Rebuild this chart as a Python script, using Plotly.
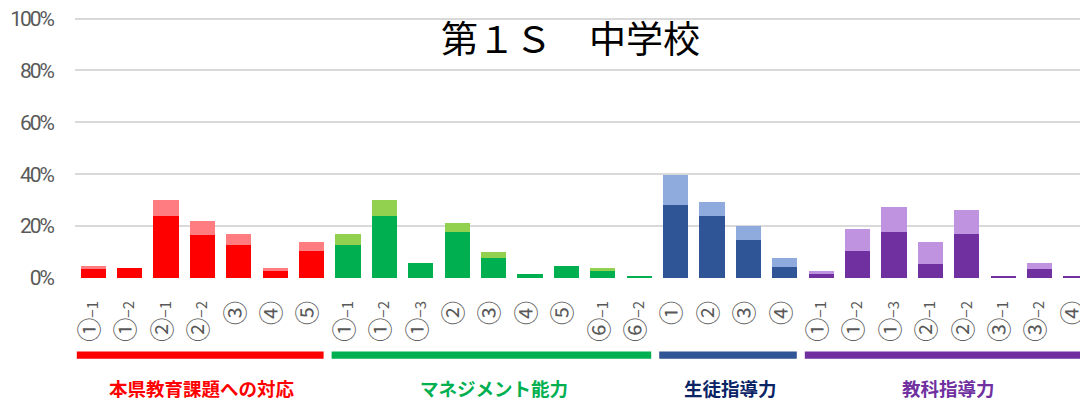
import plotly.graph_objects as go

# ---- data ----
categories = [
    "①−1", "①−2", "②−1", "②−2", "③", "④", "⑤",
    "①−1", "①−2", "①−3", "②", "③", "④", "⑤", "⑥−1", "⑥−2",
    "①", "②", "③", "④",
    "①−1", "①−2", "①−3", "②−1", "②−2", "③−1", "③−2", "④",
]
dark_values = [
    3.6, 4.0, 24.0, 16.7, 12.8, 2.8, 10.6,
    12.8, 24.0, 5.9, 17.9, 7.8, 1.7, 4.7, 2.8, 0.9,
    28.3, 24.0, 14.8, 4.4,
    1.7, 10.5, 17.9, 5.5, 17.1, 0.9, 3.6, 0.9,
]
total_values = [
    4.8, 4.0, 30.2, 22.1, 17.1, 4.0, 14.0,
    17.1, 30.2, 5.9, 21.3, 10.2, 1.7, 4.7, 4.0, 0.9,
    39.8, 29.4, 20.2, 7.8,
    2.8, 19.0, 27.5, 14.0, 26.3, 0.9, 5.9, 0.9,
]
group_names = ["本県教育課題への対応", "マネジメント能力", "生徒指導力", "教科指導力"]
group_sizes = [7, 9, 4, 8]
group_dark_colors = ["#FF0000", "#00B050", "#2F5597", "#7030A0"]
group_light_colors = ["#FF7C80", "#92D050", "#8FAADC", "#BF93E0"]
group_text_colors = ["#FF0000", "#00B050", "#0B2466", "#7030A0"]
y_ticks = [0, 20, 40, 60, 80, 100]
title_text = "第１Ｓ　中学校"

# ---- derived ----
x_idx = list(range(len(categories)))
light_values = [t - d for t, d in zip(total_values, dark_values)]
dark_cols, light_cols = [], []
for size, dc, lc in zip(group_sizes, group_dark_colors, group_light_colors):
    dark_cols += [dc] * size
    light_cols += [lc] * size


def styled_label(lab):
    # enlarge the circled number like the original chart's font
    return f'<span style="font-size:24px">{lab[0]}</span>{lab[1:]}'


tick_text = [styled_label(c) for c in categories]
# condensed look for the percentage labels
y_text = [f'<span style="letter-spacing:-2px">{v}%</span>' for v in y_ticks]

fig = go.Figure()
fig.add_trace(go.Bar(x=x_idx, y=[v / 100 for v in dark_values],
                     marker=dict(color=dark_cols, line=dict(width=0))))
fig.add_trace(go.Bar(x=x_idx, y=[v / 100 for v in light_values],
                     marker=dict(color=light_cols, line=dict(width=0))))

# group bars and labels under the axis
start = 0
for name, size, dc, tc in zip(group_names, group_sizes, group_dark_colors, group_text_colors):
    first, last = start, start + size - 1
    fig.add_shape(type="rect", xref="x", yref="paper",
                  x0=first - 0.45, x1=last + 0.33, y0=-0.308, y1=-0.281,
                  fillcolor=dc, line=dict(width=0), layer="above")
    fig.add_annotation(x=(first + last) / 2, y=-0.419, xref="x", yref="paper",
                       text=f"<b>{name}</b>", showarrow=False,
                       font=dict(family="Noto Sans CJK JP", size=18.5, color=tc),
                       xanchor="center", yanchor="middle")
    start += size

fig.add_annotation(x=0.4896, y=0.92, xref="paper", yref="paper",
                   text=title_text, showarrow=False,
                   font=dict(family="Noto Sans CJK JP", size=37, color="#000000"),
                   xanchor="center", yanchor="middle")

# the page body has an 8px margin, so the figure is 8px smaller on each side
fig.update_layout(
    width=1080, height=395,
    margin=dict(l=67, r=0, t=8.4, b=124.7),
    barmode="stack", bargap=0.31,
    showlegend=False,
    plot_bgcolor="white", paper_bgcolor="white",
)
fig.update_xaxes(
    tickmode="array", tickvals=x_idx, ticktext=tick_text,
    range=[-0.5, 27.33], tickangle=-90, automargin=False,
    ticklabeloverflow="allow",
    tickfont=dict(family="Noto Sans CJK JP", size=15, color="#595959"),
    showgrid=False, zeroline=False, showline=False, ticks="",
    ticklabelstandoff=19,
)
fig.update_yaxes(
    range=[0, 1.01], tickmode="array", tickvals=[v / 100 for v in y_ticks],
    ticktext=y_text, automargin=False,
    ticklabeloverflow="allow",
    tickfont=dict(family="Roboto", size=21, color="#595959"),
    showgrid=True, gridcolor="#D9D9D9", gridwidth=1.6,
    zeroline=False, showline=False, ticks="",
    ticklabelstandoff=21,
)

fig.write_html("out.html")
